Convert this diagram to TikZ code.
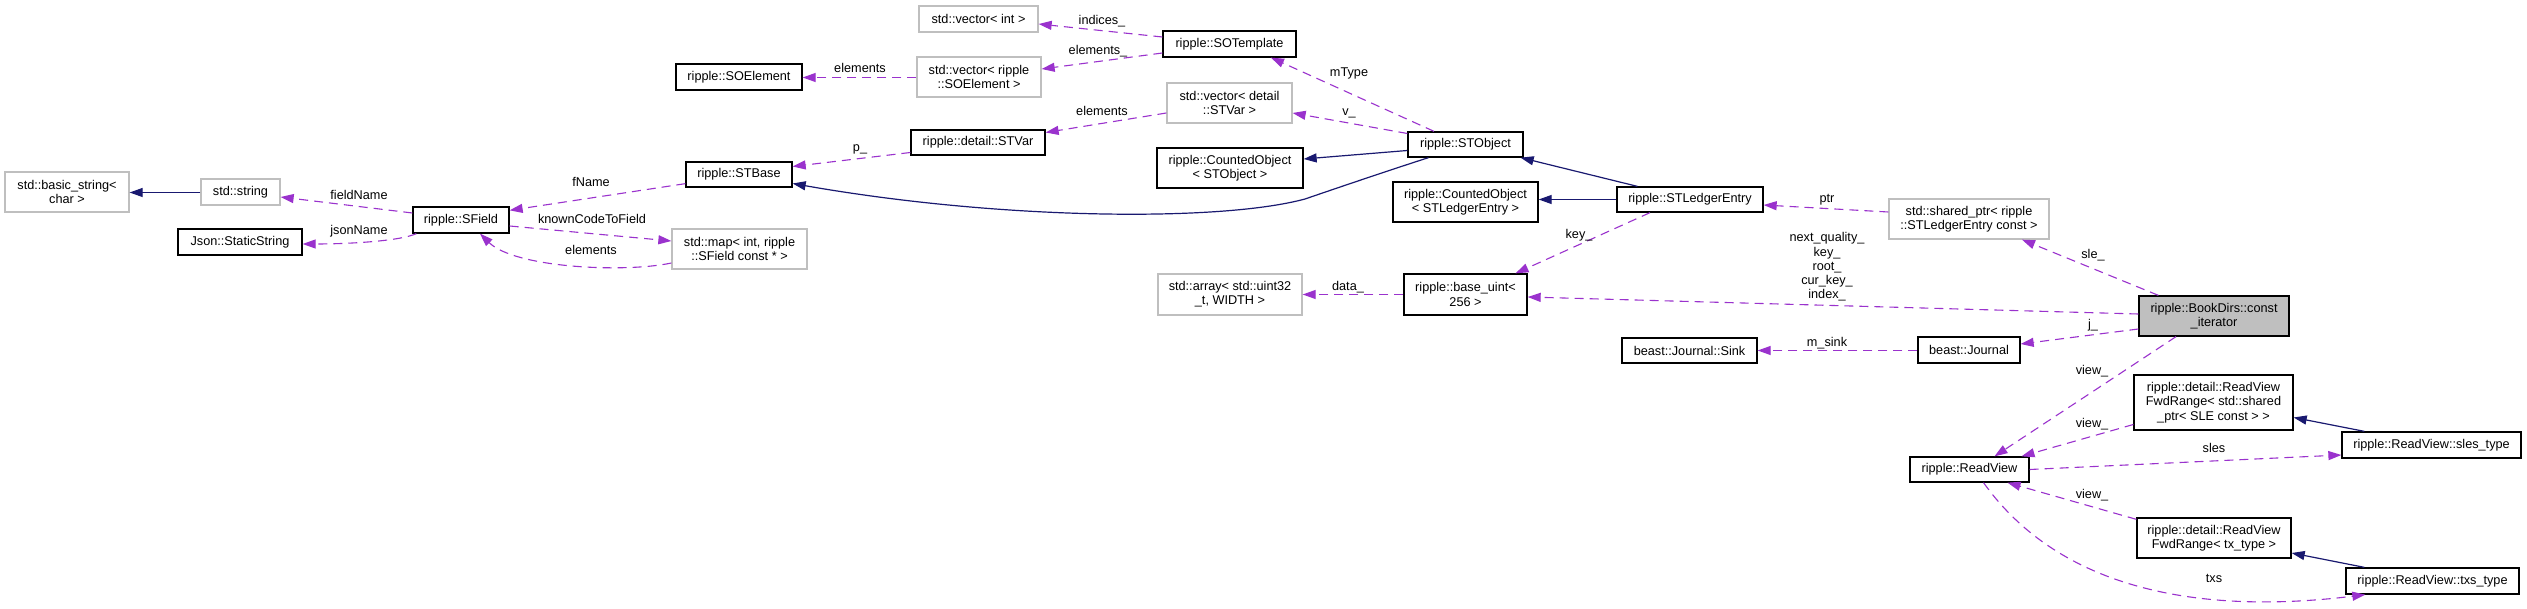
\documentclass[tikz,border=0pt]{standalone}
\usepackage{fontspec}
\setmainfont{Liberation Sans}
\usetikzlibrary{arrows.meta,calc}
\definecolor{edgepurple}{HTML}{9A32CD}
\definecolor{edgenavy}{HTML}{191970}
\definecolor{boxgray}{HTML}{BFBFBF}
\begin{document}
\begin{tikzpicture}[x=1pt,y=-1pt,
  font=\fontsize{12.7}{14.3}\selectfont,
  box/.style={draw=black,line width=1.3pt,inner sep=0pt,align=center,fill=white},
  gbox/.style={draw=boxgray,line width=1.3pt,inner sep=0pt,align=center,fill=white},
  hbox/.style={draw=black,line width=1.3pt,inner sep=0pt,align=center,fill=boxgray},
  dep/.style={draw=edgepurple,line width=1.1pt,dash pattern=on 9pt off 6pt,
    -{Triangle[length=13pt,width=9pt]},fill=none},
  inh/.style={draw=edgenavy,line width=1.2pt,
    -{Triangle[length=13pt,width=9pt]},fill=none},
  lbl/.style={inner sep=0pt,text height=9.2pt,text depth=2.6pt,align=center}]
\useasboundingbox (0,0) rectangle (2527,609);
\fill[white] (0,0) rectangle (2527,609);

% nodes
\node[gbox,minimum width=124pt,minimum height=40pt] (bstr) at (67,192) {std::basic\_string<\\char >};
\node[gbox,minimum width=79pt,minimum height=26pt] (str) at (240.5,192) {std::string};
\node[box,minimum width=96pt,minimum height=26pt] (sfield) at (461,220) {ripple::SField};
\node[box,minimum width=124pt,minimum height=26pt] (json) at (240,242) {Json::StaticString};
\node[box,minimum width=106pt,minimum height=25pt] (stbase) at (739,174.5) {ripple::STBase};
\node[box,minimum width=126pt,minimum height=26pt] (soel) at (739,77) {ripple::SOElement};
\node[gbox,minimum width=135pt,minimum height=40pt] (map) at (739.5,249) {std::map< int, ripple\\::SField const * >};
\node[gbox,minimum width=119pt,minimum height=26pt] (vint) at (978.5,19) {std::vector< int >};
\node[box,minimum width=133pt,minimum height=26pt] (sotpl) at (1229.5,44) {ripple::SOTemplate};
\node[gbox,minimum width=124pt,minimum height=40pt] (vsoel) at (979,77) {std::vector< ripple\\::SOElement >};
\node[gbox,minimum width=125pt,minimum height=40pt] (vstvar) at (1229.5,103) {std::vector< detail\\::STVar >};
\node[box,minimum width=134pt,minimum height=25pt] (stvar) at (978,142.5) {ripple::detail::STVar};
\node[box,minimum width=146pt,minimum height=40pt] (cobj) at (1230,168) {ripple::CountedObject\\< STObject >};
\node[box,minimum width=115pt,minimum height=25pt] (stobj) at (1465.5,144.5) {ripple::STObject};
\node[box,minimum width=145pt,minimum height=40pt] (cle) at (1465.5,202) {ripple::CountedObject\\< STLedgerEntry >};
\node[box,minimum width=146pt,minimum height=25pt] (stle) at (1690,199.5) {ripple::STLedgerEntry};
\node[gbox,minimum width=144pt,minimum height=41pt] (arr) at (1230,294.5) {std::array< std::uint32\\\_t, WIDTH >};
\node[box,minimum width=123pt,minimum height=41pt] (buint) at (1465.5,294.5) {ripple::base\_uint<\\256 >};
\node[gbox,minimum width=160pt,minimum height=40pt] (sptr) at (1969,219) {std::shared\_ptr< ripple\\::STLedgerEntry const >};
\node[hbox,minimum width=150pt,minimum height=40pt] (bookdirs) at (2214,316) {ripple::BookDirs::const\\\_iterator};
\node[box,minimum width=135pt,minimum height=25pt] (sink) at (1689.5,350.5) {beast::Journal::Sink};
\node[box,minimum width=102pt,minimum height=26pt] (journal) at (1969,350) {beast::Journal};
\node[box,minimum width=159pt,minimum height=55pt] (fwdsh) at (2213.5,402.5) {ripple::detail::ReadView\\FwdRange< std::shared\\\_ptr< SLE const > >};
\node[box,minimum width=119pt,minimum height=25pt] (readview) at (1969.5,469.5) {ripple::ReadView};
\node[box,minimum width=179pt,minimum height=26pt] (slestype) at (2431.5,445) {ripple::ReadView::sles\_type};
\node[box,minimum width=154pt,minimum height=40pt] (fwdtx) at (2214,538) {ripple::detail::ReadView\\FwdRange< tx\_type >};
\node[box,minimum width=173pt,minimum height=26pt] (txstype) at (2432.5,581) {ripple::ReadView::txs\_type};

% connectors
\draw[inh] ($(str.west)+(0,0.5)$) -- ($(bstr.east)+(0,0.5)$);
\draw[dep] ($(sfield.west)+(0,-7)$) -- ($(str.east)+(0,5)$);
\draw[dep] ($(sfield.south west)+(4,0)$) .. controls (400,241) and (350,244) .. ($(json.east)+(0,2)$);
\draw[dep] ($(stbase.south west)+(0,-4)$) -- ($(sfield.north east)+(0,4)$);
\draw[dep] ($(sfield.east)+(0,6)$) -- ($(map.west)+(0,-8)$);
\draw[dep] ($(map.west)+(0,14)$) .. controls (625,273) and (515,268) .. ($(sfield.south)+(19,0)$);
\draw[dep] ($(vsoel.west)+(0,0.5)$) -- ($(soel.east)+(0,0.5)$);
\draw[dep] ($(sotpl.west)+(0,-7)$) -- ($(vint.east)+(0,5)$);
\draw[dep] ($(sotpl.west)+(0,9)$) -- ($(vsoel.east)+(0,-8)$);
\draw[dep] ($(stobj.north)+(-31.5,0)$) -- ($(sotpl.south)+(41.5,0)$);
\draw[dep] ($(stobj.west)+(0,-11)$) -- ($(vstvar.east)+(0,10)$);
\draw[dep] ($(vstvar.west)+(0,10)$) -- ($(stvar.east)+(0,-10)$);
\draw[dep] ($(stvar.west)+(0,10)$) -- ($(stbase.east)+(0,-8)$);
\draw[inh] ($(stobj.west)+(0,6)$) -- ($(cobj.east)+(0,-9)$);
\draw[inh] ($(stobj.south)+(-37,0)$) .. controls (1390,170) and (1340,187) .. (1305,199)
  .. controls (1220,222) and (1000,220) .. ($(stbase.east)+(0,9)$);
\draw[inh] ($(stle.north west)+(21,0)$) -- ($(stobj.south east)+(-3,0)$);
\draw[inh] (stle.west) -- (stle.west -| cle.east);
\draw[dep] ($(stle.south)+(-40,0)$) -- ($(buint.north)+(50,0)$);
\draw[dep] (buint.west) -- (arr.east);
\draw[dep] ($(sptr.west)+(0,-7)$) -- ($(stle.east)+(0,5.5)$);
\draw[dep] ($(bookdirs.west)+(0,-2)$) -- ($(buint.east)+(0,2.5)$);
\draw[dep] ($(bookdirs.north west)+(20,0)$) -- ($(sptr.south)+(53,0)$);
\draw[dep] ($(bookdirs.west)+(0,13)$) -- ($(journal.east)+(0,-6)$);
\draw[dep] ($(journal.west)+(0,0.5)$) -- ($(journal.west -| sink.east)+(0,0.5)$);
\draw[dep] ($(bookdirs.south)+(-38,0)$) -- ($(readview.north)+(25,0)$);
\draw[dep] ($(fwdsh.west)+(0,22)$) -- ($(readview.north)+(52,0)$);
\draw[inh] ($(slestype.north west)+(23,0)$) -- ($(fwdsh.east)+(0,15)$);
\draw[dep] (readview.east) -- ($(slestype.west)+(0,10)$);
\draw[dep] ($(fwdtx.north west)+(0,2)$) -- ($(readview.south)+(38,0)$);
\draw[inh] ($(txstype.north west)+(19,0)$) -- ($(fwdtx.east)+(0,15)$);
\draw[dep] ($(readview.south)+(14,0)$) .. controls (2060,590) and (2200,615) .. ($(txstype.south west)+(20,0)$);

% labels
\node[lbl] (l1) at (359,196) {fieldName};
\node[lbl] (l2) at (359,231) {jsonName};
\node[lbl] (l3) at (591,183) {fName};
\node[lbl] (l4) at (592,220) {knownCodeToField};
\node[lbl] (l5) at (591,251) {elements};
\node[lbl] (l6) at (860,69) {elements};
\node[lbl] (l7) at (1102,21) {indices\_};
\node[lbl] (l8) at (1098,51) {elements\_};
\node[lbl] (l9) at (1349,73) {mType};
\node[lbl] (l10) at (1349,112) {v\_};
\node[lbl] (l11) at (1102,112) {elements};
\node[lbl] (l12) at (860,148) {p\_};
\node[lbl] (l13) at (1579,235) {key\_};
\node[lbl] (l14) at (1348,287) {data\_};
\node[lbl] (l15) at (1827,199) {ptr};
\node[inner sep=0pt,align=center] (l16) at (1827,267) {next\_quality\_\\key\_\\root\_\\cur\_key\_\\index\_};
\node[lbl] (l17) at (2093,255) {sle\_};
\node[lbl] (l18) at (2093,325) {j\_};
\node[lbl] (l19) at (1827,343) {m\_sink};
\node[lbl] (l20) at (2092,371) {view\_};
\node[lbl] (l21) at (2092,424) {view\_};
\node[lbl] (l22) at (2214,449) {sles};
\node[lbl] (l23) at (2092,495) {view\_};
\node[lbl] (l24) at (2214,579) {txs};
\end{tikzpicture}
\end{document}
